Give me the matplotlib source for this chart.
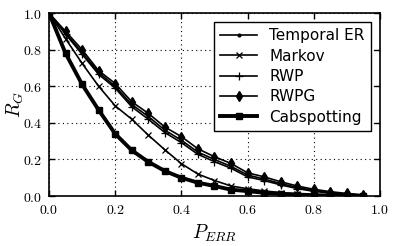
import numpy as np
import matplotlib
matplotlib.use('Agg')
import matplotlib.pyplot as plt

plt.rcParams['mathtext.fontset'] = 'cm'

p_err = [0.0, 0.05, 0.1, 0.15, 0.2, 0.25, 0.3, 0.35, 0.4, 0.45,
         0.5, 0.55, 0.6, 0.65, 0.7, 0.75, 0.8, 0.85, 0.9, 0.95]

temporal_er = [1.0, 0.89, 0.785, 0.675, 0.60, 0.50, 0.435, 0.36, 0.305, 0.24,
               0.20, 0.162, 0.115, 0.093, 0.068, 0.047, 0.03, 0.019, 0.011, 0.005]
markov = [1.0, 0.86, 0.725, 0.60, 0.493, 0.42, 0.333, 0.253, 0.177, 0.12,
          0.085, 0.055, 0.04, 0.028, 0.019, 0.012, 0.007, 0.004, 0.002, 0.001]
rwp = [1.0, 0.885, 0.775, 0.665, 0.59, 0.488, 0.42, 0.347, 0.292, 0.228,
       0.188, 0.152, 0.105, 0.085, 0.061, 0.041, 0.026, 0.016, 0.009, 0.004]
rwpg = [1.0, 0.90, 0.80, 0.685, 0.615, 0.515, 0.452, 0.377, 0.325, 0.258,
        0.215, 0.178, 0.127, 0.105, 0.078, 0.055, 0.037, 0.024, 0.014, 0.007]
cabspotting = [1.0, 0.78, 0.61, 0.47, 0.34, 0.25, 0.187, 0.137, 0.10, 0.073,
               0.055, 0.035, 0.027, 0.018, 0.012, 0.008, 0.005, 0.003, 0.001, 0.0]

ticks = [0.0, 0.2, 0.4, 0.6, 0.8, 1.0]

fig = plt.figure(figsize=(3.99, 2.46), dpi=100)
ax = fig.add_axes([0.1228, 0.203, 0.8295, 0.744])

ax.plot(p_err, temporal_er, 'k-', marker='.', ms=4, lw=1.2, label='Temporal ER')
ax.plot(p_err, markov, 'k-', marker='x', ms=5, mew=0.9, lw=1.2, label='Markov')
ax.plot(p_err, rwp, 'k-', marker='+', ms=6, mew=0.9, lw=1.2, label='RWP')
ax.plot(p_err, rwpg, 'k-', marker='d', ms=5, lw=1.2, label='RWPG')
ax.plot(p_err, cabspotting, 'k-', marker='s', ms=5, lw=2.8, label='Cabspotting')

ax.set_xlim(0, 1)
ax.set_ylim(0, 1)
ax.set_xticks(ticks)
ax.set_yticks(ticks)
ax.set_xticklabels(['$%.1f$' % t for t in ticks], fontsize=10)
ax.set_yticklabels(['$%.1f$' % t for t in ticks], fontsize=10)
ax.tick_params(direction='in', top=True, right=True, length=4, width=1, pad=5)
for s in ax.spines.values():
    s.set_linewidth(1.2)
ax.grid(True, color='k', lw=0.8, dashes=(1, 3))

ax.set_xlabel('$P_{ERR}$', fontsize=14, labelpad=4)
ax.set_ylabel('$R_G$', fontsize=14)
ax.yaxis.set_label_coords(-0.07, 0.5)

leg = ax.legend(loc='upper right', fontsize=11, fancybox=False, edgecolor='k',
                framealpha=1, borderaxespad=0.6, handlelength=2.4,
                labelspacing=0.35)
leg.get_frame().set_linewidth(1.0)

plt.savefig('out.png', dpi=100)
